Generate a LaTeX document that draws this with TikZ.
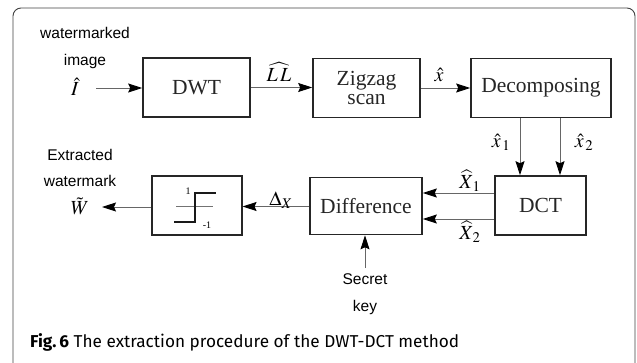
\documentclass[tikz,border=0pt]{standalone}
\usepackage{mathptmx}
\usepackage{fontspec}
\setmainfont{Liberation Serif}
\newfontfamily\labelfont{Liberation Sans}
\newfontfamily\capfont{Fira Sans}
\usetikzlibrary{arrows.meta}

\tikzset{
  blk/.style={draw=black!85, line width=1.6pt, inner sep=0pt, align=center,
              text=black!85, font=\fontsize{21.5}{23}\selectfont},
  flow/.style={draw=black!60, line width=0.9pt,
               -{Stealth[length=14pt,width=9pt,inset=2pt,color=black]}},
  side/.style={font=\labelfont\fontsize{15.5}{17}\selectfont},
  sym/.style={font=\fontsize{20}{22}\selectfont, inner sep=1pt},
}

\begin{document}
\begin{tikzpicture}[x=1pt,y=-1pt]
  \useasboundingbox (0,0) rectangle (637,362);

  % outer frame (runs past the lower edge)
  \draw[black!75, line width=0.9pt, rounded corners=8pt] (13,8) rectangle (635,380);

  % processing blocks
  \node[blk, minimum width=107pt, minimum height=59pt] (dwt) at (196.5,87.5) {DWT};
  \node[blk, minimum width=107pt, minimum height=59pt, font=\fontsize{21.5}{21}\selectfont] (zig) at (366.5,88) {Zigzag\\[-2pt]scan};
  \node[blk, minimum width=140pt, minimum height=59pt] (dec) at (541,88) {Decomposing};
  \node[blk, minimum width=91pt, minimum height=59pt] (dct) at (540.5,205.5) {DCT};
  \node[blk, minimum width=112pt, minimum height=57pt] (dif) at (366,206) {Difference};
  \node[blk, minimum width=89.5pt, minimum height=58.5pt] (sgn) at (197,205.5) {};

  % sign function inside the threshold block
  \draw[black!55, line width=0.8pt] (176,206.5) -- (213,206.5);
  \draw[black!90, line width=1.2pt] (174,222) -- (195,222) -- (195,193) -- (216,193);
  \node[font=\fontsize{10}{11}\selectfont, inner sep=0pt] (one) at (188,191) {1};
  \node[font=\fontsize{10}{11}\selectfont, inner sep=0pt] (mone) at (207,225) {-1};

  % input and output labels
  \node[side] (wm1) at (85,33) {watermarked};
  \node[side] (wm2) at (85,61) {image};
  \node[sym] (I) at (75,87) {$\hat{I}$};
  \node[side] (ex1) at (80,155) {Extracted};
  \node[side] (ex2) at (80,181) {watermark};
  \node[sym] (W) at (80,206) {$\tilde{W}$};
  \node[side] (k1) at (365,279) {Secret};
  \node[side] (k2) at (365,307) {key};

  \coordinate (inp) at (96,88);
  \coordinate (outp) at (102,207);
  \coordinate (keyp) at (365,268);

  % connectors
  \draw[flow] (inp) -- (dwt.west |- inp);
  \draw[flow] (dwt.east) -- (zig.west |- dwt.east);
  \draw[flow] (zig.east |- 0,88) -- (dec.west |- 0,88);
  \draw[flow] (dec.south -| 520,0) -- (dct.north -| 520,0);
  \draw[flow] (dec.south -| 560,0) -- (dct.north -| 560,0);
  \draw[flow] (dct.west |- 0,193) -- (dif.east |- 0,193);
  \draw[flow] (dct.west |- 0,219) -- (dif.east |- 0,219);
  \draw[flow] (dif.west |- 0,206.5) -- (sgn.east |- 0,206.5);
  \draw[flow] (sgn.west |- outp) -- (outp);
  \draw[flow] (keyp) -- (dif.south -| keyp);

  % connector labels
  \node[sym] (lLL) at (279,72) {$\widehat{L\,L}$};
  \node[sym] (lx) at (439,75) {$\hat{x}$};
  \node[sym] (lx1) at (501,142) {$\hat{x}_{\,1}$};
  \node[sym] (lx2) at (584,142) {$\hat{x}_{\,2}$};
  \node[sym] (lX1) at (470,181) {$\widehat{X}_{\,1}$};
  \node[sym] (lX2) at (470,232) {$\widehat{X}_{\,2}$};
  \node[sym] (lD) at (281,200) {$\Delta_{X}$};

  % caption
  \node[anchor=base west, inner sep=0pt, font=\capfont\fontsize{17.2}{20}\selectfont] (cap) at (30,347)
    {\textbf{Fig.\,6} The extraction procedure of the DWT-DCT method};
\end{tikzpicture}
\end{document}
